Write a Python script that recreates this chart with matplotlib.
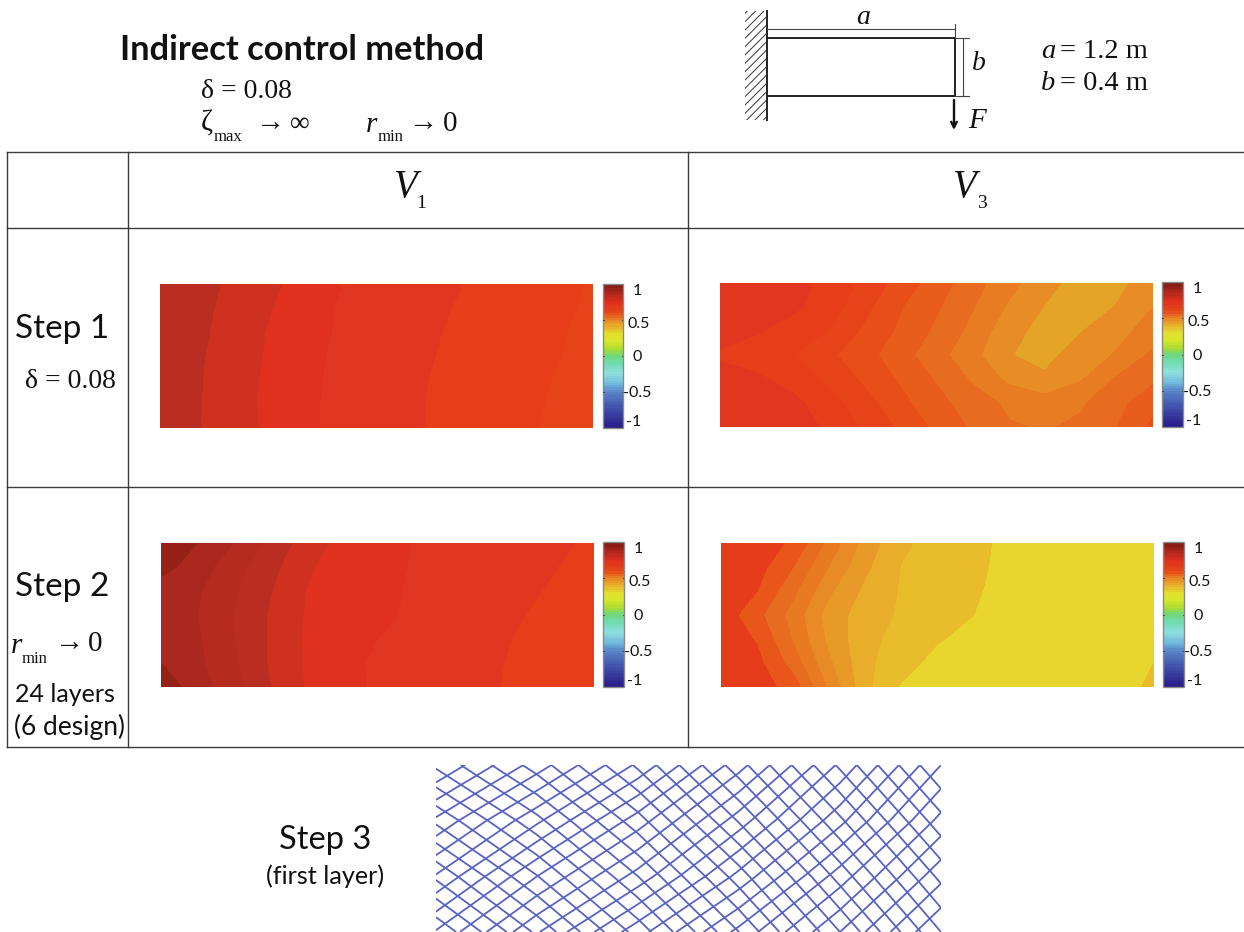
import numpy as np
import matplotlib
matplotlib.use("Agg")
import matplotlib.pyplot as plt
from matplotlib.colors import LinearSegmentedColormap
from matplotlib.patches import Rectangle

# Contour fields, rows run from the top edge of the plate to the bottom edge
v1_step1 = [
    [.875, .866, .842, .811, .782, .751, .736, .721, .706, .691, .677, .662, .647],
    [.873, .865, .835, .804, .770, .746, .731, .716, .701, .687, .672, .658, .643],
    [.871, .862, .830, .797, .768, .744, .728, .713, .697, .683, .669, .654, .640],
    [.870, .858, .825, .795, .763, .741, .725, .710, .694, .680, .665, .652, .637],
    [.870, .856, .822, .792, .760, .740, .723, .706, .692, .677, .661, .648, .632],
    [.869, .855, .822, .790, .759, .738, .721, .705, .690, .675, .659, .645, .630],
    [.868, .854, .820, .790, .758, .738, .720, .705, .690, .673, .657, .642, .625],
]
v3_step1 = [
    [.735, .725, .710, .692, .636, .580, .524, .470, .417, .366, .330, .340, .370],
    [.735, .725, .710, .677, .614, .553, .507, .453, .393, .348, .330, .352, .400],
    [.725, .705, .678, .648, .591, .540, .490, .436, .367, .333, .347, .385, .420],
    [.690, .675, .652, .610, .568, .520, .468, .415, .352, .337, .370, .405, .460],
    [.725, .710, .680, .642, .590, .543, .495, .443, .388, .357, .395, .457, .490],
    [.750, .740, .715, .670, .620, .565, .515, .475, .440, .425, .443, .483, .535],
    [.750, .740, .720, .693, .642, .590, .538, .492, .455, .445, .460, .500, .560],
]
v1_step2 = [
    [.990, .970, .940, .892, .824, .787, .768, .749, .738, .727, .716, .705, .694],
    [.980, .956, .921, .869, .806, .783, .764, .747, .735, .724, .712, .700, .689],
    [.955, .945, .908, .854, .800, .780, .761, .745, .732, .719, .706, .695, .683],
    [.950, .940, .900, .846, .797, .778, .759, .743, .729, .715, .701, .690, .680],
    [.955, .945, .902, .845, .795, .772, .750, .736, .723, .710, .696, .686, .676],
    [.970, .948, .909, .846, .796, .766, .742, .729, .716, .706, .694, .683, .672],
    [.985, .958, .917, .852, .797, .764, .744, .730, .717, .705, .692, .680, .668],
]
v3_step2 = [
    [.690, .675, .642, .534, .429, .359, .331, .310, .290, .280, .275, .270, .265],
    [.690, .670, .600, .497, .409, .348, .328, .307, .290, .280, .275, .270, .270],
    [.685, .650, .562, .458, .388, .345, .320, .305, .285, .280, .275, .270, .270],
    [.680, .615, .530, .427, .374, .343, .321, .300, .285, .280, .277, .272, .270],
    [.685, .645, .545, .436, .365, .331, .304, .285, .280, .277, .275, .272, .280],
    [.690, .665, .578, .458, .362, .317, .285, .280, .277, .275, .275, .275, .300],
    [.690, .675, .628, .489, .363, .295, .285, .280, .277, .275, .275, .280, .310],
]
levels = [.2, .3, .35, .4, .45, .5, .55, .6, .65, .7, .75, .8, .85, .9, .94, .97, 1.0]

# Fibre line index on a coarse grid for step 3
mesh_up = [
    [0.0, 3.47, 7.2, 11.6, 16.2, 21.0],
    [3.2, 6.8, 10.5, 14.5, 18.7, 23.35],
    [6.1, 10.0, 13.4, 17.3, 21.5, 25.7],
    [9.1, 12.9, 16.6, 20.3, 24.0, 28.0],
]
mesh_down = [
    [0.2, 3.47, 7.2, 11.6, 16.2, 21.0],
    [-2.8, 0.7, 4.6, 9.1, 13.8, 18.65],
    [-5.8, -2.05, 2.0, 6.5, 11.4, 16.3],
    [-8.8, -4.8, -0.6, 4.0, 9.0, 14.0],
]

cbar_ticks = [1, 0.5, 0, -0.5, -1]
cbar_labels = ["1", "0.5", "0", "-0.5", "-1"]
cbar_label_pos = [0.9, 0.45, -0.02, -0.52, -0.92]
cbar_label_shift = [0, 2, 0, 0, -3]

common_bands = ["#e8d52d", "#e4a428", "#e88c26", "#e87c22", "#e86c20", "#e85c1c",
                "#e84e18", "#e64418", "#e63e18", "#e1361f", "#e0311f", "#cf3120",
                "#ba2e22", "#b52b20", "#aa281d", "#962217"]
yellow_bands = ["#e8d52d", "#e8bc2a", "#e8ae2a", "#e89a28", "#e88a26", "#e87a22",
                "#e86c20", "#e8561a", "#e53c1a", "#e1361f", "#e0311f", "#cf3120",
                "#ba2e22", "#b52b20", "#aa281d", "#962217"]
jet_like = LinearSegmentedColormap.from_list("barcolors", [
    (0.0, "#2a1c88"), (0.15, "#4458b0"), (0.25, "#5a88c8"), (0.3, "#70b8dc"),
    (0.375, "#90e0e0"), (0.45, "#70dcb0"), (0.5, "#70d878"), (0.55, "#b0dc30"),
    (0.6, "#d8e82c"), (0.65, "#e4e02c"), (0.7, "#e8b42c"), (0.75, "#e88a26"),
    (0.8, "#e64a18"), (0.875, "#e0311f"), (0.95, "#a8261c"), (1.0, "#7a1c14"),
], N=64)

W, H = 1244, 932
SERIF = ["Liberation Serif", "DejaVu Serif"]
SANS = ["Lato", "DejaVu Sans"]
LINE = "#3c3c3c"

fig = plt.figure(figsize=(W / 100, H / 100), dpi=100)


def px_axes(x0, y0, x1, y1):
    a = fig.add_axes([x0 / W, 1 - y1 / H, (x1 - x0) / W, (y1 - y0) / H])
    a.axis("off")
    return a


# Page axes in pixels for the table, the notes and the beam sketch
page = px_axes(0, 0, W, H)
page.set_xlim(0, W)
page.set_ylim(H, 0)

for y in [152, 228, 487, 747]:
    page.plot([7, W], [y, y], color=LINE, lw=1)
for x in [7, 128, 688]:
    page.plot([x, x], [152, 747], color=LINE, lw=1)


def sans(x, y, s, size, **kw):
    page.text(x, y, s, fontsize=size, family=SANS, va="center", color="#111111", **kw)


def serif(x, y, s, size, **kw):
    page.text(x, y, s, fontsize=size, family=SERIF, va="center", color="#111111", **kw)


sans(120, 50, "Indirect control method", 24.8, fontweight="bold")
serif(201, 92, "δ = 0.08", 20)
serif(201, 124, "ζ", 21)
serif(214, 137, "max", 12)
serif(256, 123, "→", 21)
serif(290, 124, "∞", 20)
serif(366, 125, "r", 21, style="italic")
serif(378, 137, "min", 12)
serif(409, 123, "→", 21)
serif(443, 124, "0", 21)

serif(394, 188, "V", 28, style="italic")
serif(416, 204, "1", 14)
serif(953, 188, "V", 28, style="italic")
serif(977, 204, "3", 14)

sans(15, 329, "Step 1", 24)
serif(25, 382, "δ = 0.08", 20)
sans(15, 587, "Step 2", 24)
serif(11, 646, "r", 21, style="italic")
serif(22, 659, "min", 12)
serif(55, 643, "→", 21)
serif(88, 644, "0", 21)
sans(15, 694, "24 layers", 18)
sans(14, 727, "(6 design)", 19)
sans(279, 840, "Step 3", 23.5)
sans(266, 876, "(first layer)", 18.2)

# Beam sketch
plt.rcParams["hatch.linewidth"] = 0.7
page.add_patch(Rectangle((745, 11), 22, 109, fill=False, hatch="////", lw=0, edgecolor="#333333"))
page.plot([767, 767], [11, 120], color="#222222", lw=1.4)
page.plot([767, 955, 955, 767], [38, 38, 96, 96], color="#222222", lw=1.4)
page.plot([767, 954], [29, 29], color="#444444", lw=0.8)
page.plot([955, 955], [24, 38], color="#444444", lw=0.8)
page.plot([955, 969], [38, 38], color="#444444", lw=0.8)
page.plot([955, 969], [96, 96], color="#444444", lw=0.8)
page.plot([963, 963], [38, 96], color="#444444", lw=0.8)
page.annotate("", xy=(954, 130), xytext=(954, 100),
              arrowprops=dict(arrowstyle="->", color="#111111", lw=1.7, shrinkA=0, shrinkB=0))
serif(856, 17, "a", 20, style="italic")
serif(972, 63, "b", 20, style="italic")
serif(968, 121, "F", 21, style="italic")
serif(1041, 51, "a", 20.5, style="italic")
serif(1060, 51, "= 1.2 m", 20.5)
serif(1041, 83, "b", 20.5, style="italic")
serif(1060, 83, "= 0.4 m", 20.5)

# Contour panels with their colour bars
panels = [
    (v1_step1, common_bands, (160, 284, 593, 428), (603, 284, 623, 428), 637),
    (v3_step1, common_bands, (720, 283, 1153, 427), (1162, 282, 1183, 427), 1197),
    (v1_step2, common_bands, (161, 543, 594, 687), (603, 542, 624, 687), 638),
    (v3_step2, yellow_bands, (721, 543, 1154, 687), (1163, 542, 1184, 687), 1198),
]
xs = np.linspace(0, 1.2, 13)
ys = np.linspace(0.4, 0, 7)
gradient = np.linspace(1, -1, 256).reshape(-1, 1)

for field, bands, box, cbox, label_x in panels:
    ax = px_axes(*box)
    ax.contourf(xs, ys, np.array(field), levels=levels, colors=bands, extend="neither")
    ax.set_xlim(0, 1.2)
    ax.set_ylim(0, 0.4)

    cb = px_axes(*cbox)
    cb.imshow(gradient, cmap=jet_like, vmin=-1, vmax=1, aspect="auto", extent=[0, 1, -1, 1],
              interpolation="nearest")
    cb.add_patch(Rectangle((0, -1), 1, 2, fill=False, edgecolor="#8a8a8a", lw=1, clip_on=False))
    for t in cbar_ticks[1:-1]:
        cb.plot([0, 0.06], [t, t], color="#333333", lw=0.6)
        cb.plot([0.94, 1], [t, t], color="#333333", lw=0.6)
    cb.set_xlim(0, 1)
    cb.set_ylim(-1, 1)
    top, bottom = cbox[1], cbox[3]
    for lab, pos, shift in zip(cbar_labels, cbar_label_pos, cbar_label_shift):
        ly = (top + bottom) / 2 - pos * (bottom - top) / 2
        page.text(label_x + shift, ly, lab, fontsize=11.5, family=SANS, ha="center", va="center",
                  color="#111111")

# Step 3 fibre mesh
mesh = px_axes(436, 765, 941, 932)
mx = np.linspace(0, 1.2, 6)
my = np.linspace(0.4, 0, 4)
mesh.contour(mx, my, np.array(mesh_up), levels=np.arange(1, 29), colors="#5a62c2",
             linewidths=1.3, linestyles="solid")
mesh.contour(mx, my, np.array(mesh_down), levels=np.arange(-8, 22), colors="#5a62c2",
             linewidths=1.3, linestyles="solid")
mesh.set_xlim(0, 1.2)
mesh.set_ylim(0, 0.4)

fig.savefig("out.png", dpi=100)
